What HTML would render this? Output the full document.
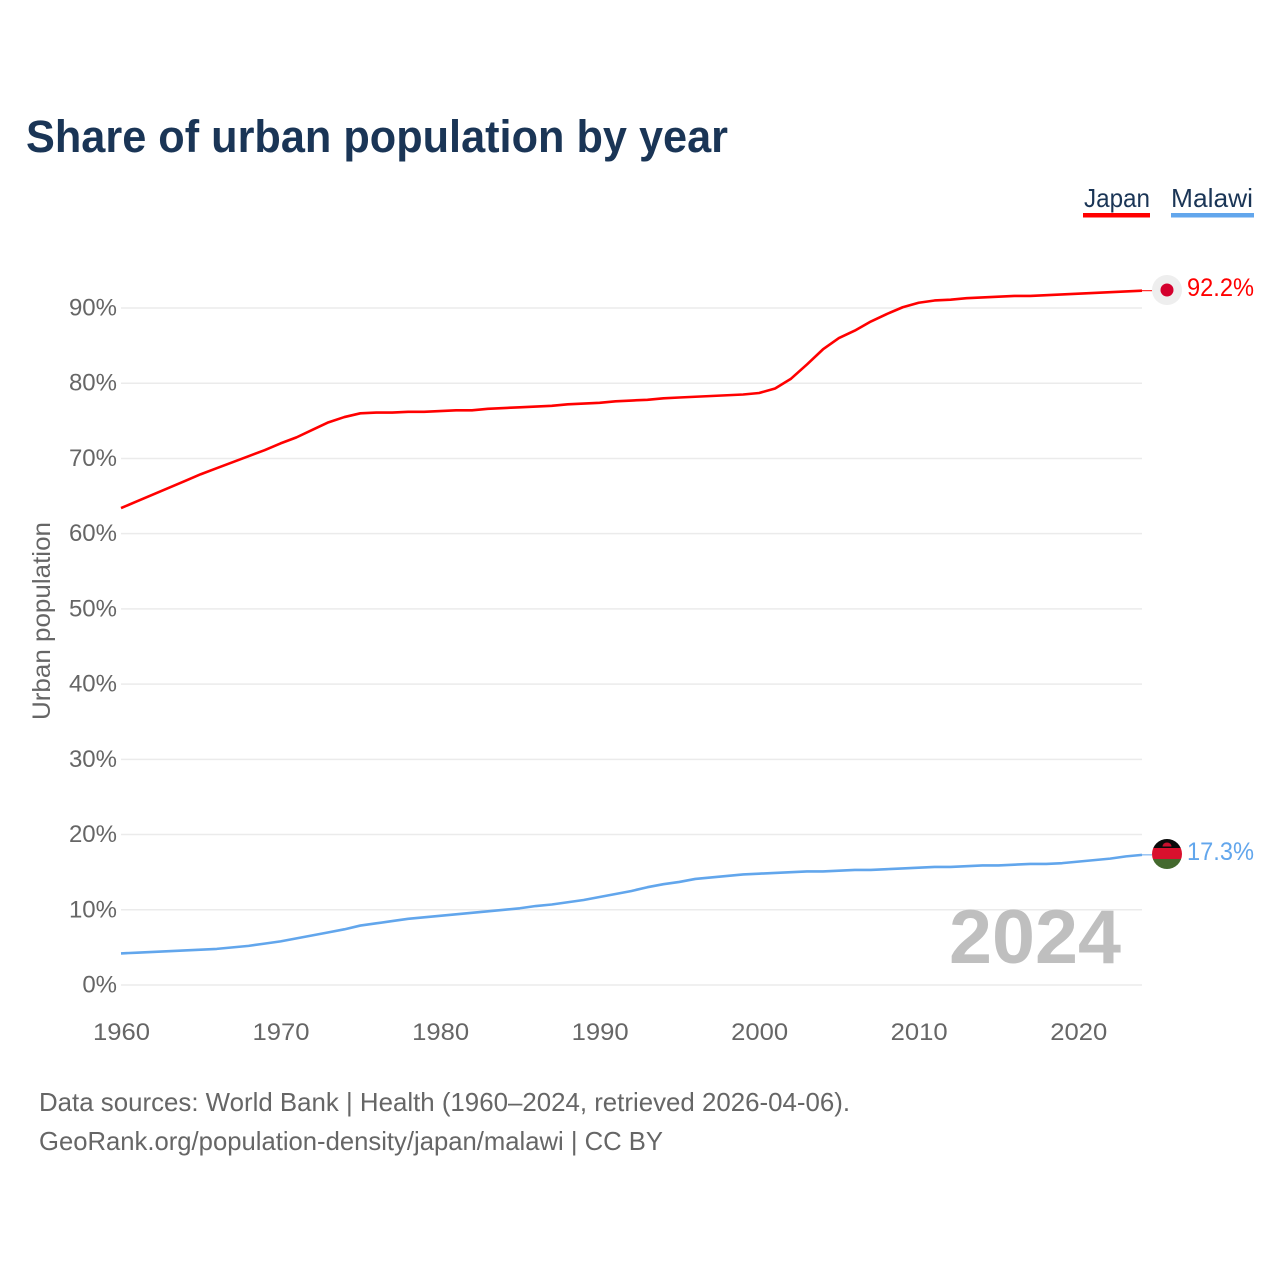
<!DOCTYPE html>
<html lang="en">
<head>
<meta charset="utf-8">
<title>Share of urban population by year</title>
<style>
html,body{margin:0;padding:0;background:#fff;width:1280px;height:1280px;overflow:hidden}
svg{display:block;font-family:"Liberation Sans",sans-serif}
</style>
</head>
<body>
<svg id="chart" width="1280" height="1280" viewBox="0 0 1280 1280" xmlns="http://www.w3.org/2000/svg">
  <defs>
    <clipPath id="flag-clip"><circle cx="1167" cy="854" r="15"></circle></clipPath>
  </defs>
  <text x="26" y="152" font-size="45" font-weight="700" fill="#1a3556" textLength="702" lengthAdjust="spacingAndGlyphs">Share of urban population by year</text>

  <g>
    <g>
      <text x="1084" y="207" font-size="26" fill="#1a3556" textLength="66" lengthAdjust="spacingAndGlyphs">Japan</text>
      <rect x="1083" y="213" width="67" height="4.5" fill="#ff0000"></rect>
    </g>
    <g>
      <text x="1171" y="207" font-size="26" fill="#1a3556" textLength="82" lengthAdjust="spacingAndGlyphs">Malawi</text>
      <rect x="1171" y="213" width="83" height="4.5" fill="#62a6ec"></rect>
    </g>
  </g>

  <g id="grid"></g>
  <g id="y-axis"></g>
  <g id="x-axis"></g>

  <text transform="translate(50,621) rotate(-90)" text-anchor="middle" font-size="25" fill="#666666" textLength="198" lengthAdjust="spacingAndGlyphs">Urban population</text>

  <text x="1121" y="963" text-anchor="end" font-size="76" font-weight="700" fill="#bfbfbf" textLength="172" lengthAdjust="spacingAndGlyphs">2024</text>

  <g id="series"></g>

  <g>
    <circle cx="1167" cy="290" r="15" fill="#eeeeee"></circle>
    <circle cx="1167" cy="290" r="6.5" fill="#d4002d"></circle>
  </g>
  <text x="1187" y="296" font-size="25" fill="#ff0000" textLength="67" lengthAdjust="spacingAndGlyphs">92.2%</text>

  <g clip-path="url(#flag-clip)">
    <rect x="1152" y="839" width="30" height="9" fill="#0a0a0a"></rect>
    <rect x="1152" y="848" width="30" height="11" fill="#d9102d"></rect>
    <rect x="1152" y="859" width="30" height="10" fill="#44692e"></rect>
    <path d="M1162.5 846.5a4.5 4 0 0 1 9 0z" fill="#c8102e"></path>
  </g>
  <text x="1187" y="860" font-size="25" fill="#62a6ec" textLength="67" lengthAdjust="spacingAndGlyphs">17.3%</text>

  <text x="39" y="1111" font-size="26" fill="#666666" textLength="811" lengthAdjust="spacingAndGlyphs">Data sources: World Bank | Health (1960–2024, retrieved 2026-04-06).</text>
  <text x="39" y="1150" font-size="26" fill="#666666" textLength="624" lengthAdjust="spacingAndGlyphs">GeoRank.org/population-density/japan/malawi | CC BY</text>
</svg>
<script>
const years = [1960,1961,1962,1963,1964,1965,1966,1967,1968,1969,1970,1971,1972,1973,1974,1975,1976,1977,1978,1979,1980,1981,1982,1983,1984,1985,1986,1987,1988,1989,1990,1991,1992,1993,1994,1995,1996,1997,1998,1999,2000,2001,2002,2003,2004,2005,2006,2007,2008,2009,2010,2011,2012,2013,2014,2015,2016,2017,2018,2019,2020,2021,2022,2023,2024];
const japanValues = [63.4,64.3,65.2,66.1,67.0,67.9,68.7,69.5,70.3,71.1,72.0,72.8,73.8,74.8,75.5,76.0,76.1,76.1,76.2,76.2,76.3,76.4,76.4,76.6,76.7,76.8,76.9,77.0,77.2,77.3,77.4,77.6,77.7,77.8,78.0,78.1,78.2,78.3,78.4,78.5,78.7,79.3,80.6,82.5,84.5,86.0,87.0,88.2,89.2,90.1,90.7,91.0,91.1,91.3,91.4,91.5,91.6,91.6,91.7,91.8,91.9,92.0,92.1,92.2,92.3];
const malawiValues = [4.2,4.3,4.4,4.5,4.6,4.7,4.8,5.0,5.2,5.5,5.8,6.2,6.6,7.0,7.4,7.9,8.2,8.5,8.8,9.0,9.2,9.4,9.6,9.8,10.0,10.2,10.5,10.7,11.0,11.3,11.7,12.1,12.5,13.0,13.4,13.7,14.1,14.3,14.5,14.7,14.8,14.9,15.0,15.1,15.1,15.2,15.3,15.3,15.4,15.5,15.6,15.7,15.7,15.8,15.9,15.9,16.0,16.1,16.1,16.2,16.4,16.6,16.8,17.1,17.3];
const yTicks = [0,10,20,30,40,50,60,70,80,90];
const yTickLabels = ["0%","10%","20%","30%","40%","50%","60%","70%","80%","90%"];
const xTicks = [1960,1970,1980,1990,2000,2010,2020];
const xTickLabels = ["1960","1970","1980","1990","2000","2010","2020"];

const NS = 'http://www.w3.org/2000/svg';
const xScale = function (year) { return 121 + (year - 1960) * (1142 - 121) / 64; };
const yScale = function (value) { return 985 - value * (985 - 308) / 90; };

const grid = document.getElementById('grid');
const yAxis = document.getElementById('y-axis');
const xAxis = document.getElementById('x-axis');
const seriesGroup = document.getElementById('series');

yTicks.forEach(function (tick, i) {
  const line = document.createElementNS(NS, 'line');
  
  
  line.setAttribute('x1', 121);
  line.setAttribute('x2', 1142);
  line.setAttribute('y1', yScale(tick));
  line.setAttribute('y2', yScale(tick));
  line.setAttribute('stroke', '#ebebeb');
  line.setAttribute('stroke-width', '1.5');
  grid.appendChild(line);

  const label = document.createElementNS(NS, 'text');
  
  
  label.setAttribute('x', 117);
  label.setAttribute('y', yScale(tick) + 7.5);
  label.setAttribute('text-anchor', 'end');
  label.setAttribute('font-size', '24');
  label.setAttribute('fill', '#666666');
  label.textContent = yTickLabels[i];
  yAxis.appendChild(label);
});

xTicks.forEach(function (tick, i) {
  const label = document.createElementNS(NS, 'text');
  
  
  label.setAttribute('x', xScale(tick) + 0.5);
  label.setAttribute('y', 1040);
  label.setAttribute('text-anchor', 'middle');
  label.setAttribute('font-size', '24');
  label.setAttribute('fill', '#666666');
  label.setAttribute('textLength', '57');
  label.setAttribute('lengthAdjust', 'spacingAndGlyphs');
  label.textContent = xTickLabels[i];
  xAxis.appendChild(label);
});

function buildPoints(values) {
  return values.map(function (value, i) {
    return xScale(years[i]).toFixed(2) + ',' + yScale(value).toFixed(2);
  }).join(' ');
}

const japanLine = document.createElementNS(NS, 'polyline');


japanLine.setAttribute('points', buildPoints(japanValues));
japanLine.setAttribute('fill', 'none');
japanLine.setAttribute('stroke', '#ff0000');
japanLine.setAttribute('stroke-width', '2.6');
japanLine.setAttribute('stroke-linejoin', 'round');
seriesGroup.appendChild(japanLine);

const japanConnector = document.createElementNS(NS, 'line');


japanConnector.setAttribute('x1', xScale(years[years.length - 1]));
japanConnector.setAttribute('y1', yScale(japanValues[japanValues.length - 1]));
japanConnector.setAttribute('x2', 1152);
japanConnector.setAttribute('y2', yScale(japanValues[japanValues.length - 1]));
japanConnector.setAttribute('stroke', '#ff0000');
japanConnector.setAttribute('stroke-width', '1');
seriesGroup.appendChild(japanConnector);

const malawiLine = document.createElementNS(NS, 'polyline');


malawiLine.setAttribute('points', buildPoints(malawiValues));
malawiLine.setAttribute('fill', 'none');
malawiLine.setAttribute('stroke', '#62a6ec');
malawiLine.setAttribute('stroke-width', '2.6');
malawiLine.setAttribute('stroke-linejoin', 'round');
seriesGroup.appendChild(malawiLine);

const malawiConnector = document.createElementNS(NS, 'line');


malawiConnector.setAttribute('x1', xScale(years[years.length - 1]));
malawiConnector.setAttribute('y1', yScale(malawiValues[malawiValues.length - 1]));
malawiConnector.setAttribute('x2', 1152);
malawiConnector.setAttribute('y2', yScale(malawiValues[malawiValues.length - 1]));
malawiConnector.setAttribute('stroke', '#62a6ec');
malawiConnector.setAttribute('stroke-width', '1');
seriesGroup.appendChild(malawiConnector);
</script>
</body>
</html>
